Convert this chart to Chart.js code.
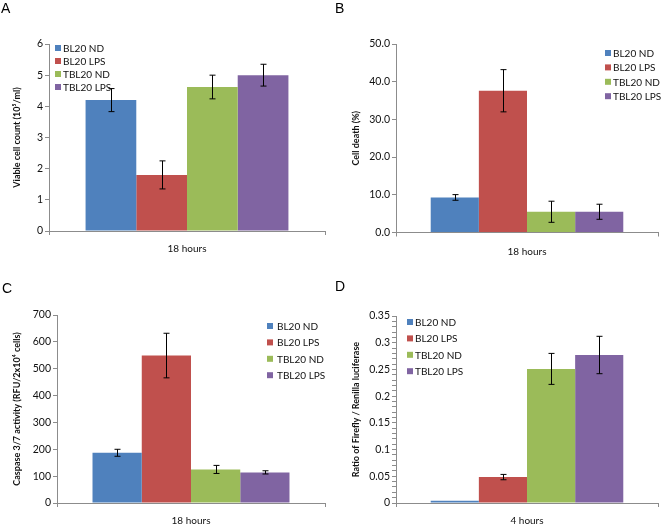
<!DOCTYPE html>
<html>
<head>
<meta charset="utf-8">
<script src="https://cdn.jsdelivr.net/npm/chart.js@4"></script>
<style>
  body { margin: 0; background: #fff; }
  .wrap { position: relative; width: 667px; height: 528px; }
  .panel { position: absolute; width: 333px; height: 264px; }
  .panel canvas { position: absolute; left: 0; top: 0; }
  .letter { position: absolute; font: 14px "Liberation Sans", Arial, sans-serif; color: #000; line-height: 1; }
</style>
</head>
<body>
<div class="wrap">
  <div class="panel" style="left:0;top:0"><canvas id="chartA" width="333" height="264"></canvas><div class="letter" style="left:1px;top:1px">A</div></div>
  <div class="panel" style="left:333px;top:0"><canvas id="chartB" width="334" height="264"></canvas><div class="letter" style="left:2px;top:1px">B</div></div>
  <div class="panel" style="left:0;top:264px"><canvas id="chartC" width="333" height="264"></canvas><div class="letter" style="left:2px;top:17px">C</div></div>
  <div class="panel" style="left:333px;top:264px"><canvas id="chartD" width="334" height="264"></canvas><div class="letter" style="left:2px;top:15px">D</div></div>
</div>
<script>
// series shared by all four panels
const seriesLabels = ["BL20 ND", "BL20 LPS", "TBL20 ND", "TBL20 LPS"];
const seriesColors = ["#4F81BD", "#C0504D", "#9BBB59", "#8064A2"];

// A - viable cell count
const catA = ["18 hours"];
const viableCount = [4.2, 1.8, 4.62, 5.0];
const viableErr = [0.37, 0.45, 0.38, 0.35];

// B - cell death
const catB = ["18 hours"];
const cellDeath = [9.3, 37.6, 5.5, 5.5];
const cellDeathErr = [0.75, 5.6, 2.8, 2.0];

// C - caspase 3/7
const catC = ["18 hours"];
const caspase = [187, 549, 125, 114];
const caspaseErr = [13, 83, 15, 6];

// D - luciferase ratio
const catD = ["4 hours"];
const luciferase = [0.004, 0.0485, 0.251, 0.277];
const luciferaseErr = [0, 0.005, 0.029, 0.035];

const FONT = "Lato, 'Open Sans', sans-serif";

// error bars drawn from the y scale
const errorBars = {
  id: "errorBars",
  afterDatasetsDraw(chart) {
    const errs = chart.options.plugins.errorBars.errors;
    const ctx = chart.ctx;
    const y = chart.scales.y;
    ctx.save();
    ctx.strokeStyle = "#000";
    ctx.lineWidth = 1;
    chart.data.datasets.forEach((ds, i) => {
      const bar = chart.getDatasetMeta(i).data[0];
      const e = errs[i];
      if (!e) return;
      const v = ds.data[0];
      const x = Math.round(bar.x) + 0.5;
      const top = y.getPixelForValue(v + e);
      const bot = y.getPixelForValue(v - e);
      ctx.beginPath();
      ctx.moveTo(x, top); ctx.lineTo(x, bot);
      ctx.moveTo(x - 3, top); ctx.lineTo(x + 3, top);
      ctx.moveTo(x - 3, bot); ctx.lineTo(x + 3, bot);
      ctx.stroke();
    });
    ctx.restore();
  }
};

// small legend drawn at a fixed spot
const boxLegend = {
  id: "boxLegend",
  afterDraw(chart) {
    const o = chart.options.plugins.boxLegend;
    const ctx = chart.ctx;
    ctx.save();
    ctx.font = "10px " + FONT;
    ctx.textBaseline = "middle";
    chart.data.datasets.forEach((ds, i) => {
      const cy = o.y + i * o.gap;
      ctx.fillStyle = ds.backgroundColor;
      ctx.fillRect(o.x, cy - 3, 6, 6);
      ctx.fillStyle = "#111";
      ctx.fillText(ds.label, o.textX, cy + 0.5);
    });
    ctx.restore();
  }
};

function makePanel(id, p) {
  return new Chart(document.getElementById(id), {
    type: "bar",
    data: {
      labels: p.labels,
      datasets: seriesLabels.map((name, i) => ({
        label: name,
        data: [p.values[i]],
        backgroundColor: seriesColors[i],
        borderWidth: 0,
        categoryPercentage: 0.735,
        barPercentage: 1
      }))
    },
    options: {
      responsive: false,
      animation: false,
      layout: { padding: { left: p.padLeft, right: p.padRight, top: p.top, bottom: 0 } },
      plugins: {
        legend: { display: false },
        tooltip: { enabled: false },
        errorBars: { errors: p.errors },
        boxLegend: p.legend
      },
      scales: {
        x: {
          grid: { drawOnChartArea: false, tickLength: 4, color: "#8c8c8c", offset: true },
          border: { color: "#8c8c8c" },
          ticks: { font: { family: FONT, size: 10 }, color: "#111", padding: p.xPad },
          afterFit(s) { s.height = p.xHeight; }
        },
        y: {
          min: 0,
          max: p.max,
          grid: { drawOnChartArea: false, tickLength: 4, color: "#8c8c8c" },
          border: { color: "#8c8c8c" },
          ticks: {
            stepSize: p.step,
            maxTicksLimit: 50,
            autoSkip: false,
            font: { family: FONT, size: 10.5 },
            color: "#111",
            padding: 2,
            callback: p.tickFmt
          },
          title: {
            display: true,
            text: p.yTitle,
            font: { family: FONT, size: 9, weight: "bold" },
            color: "#111",
            padding: 0
          },
          afterFit(s) { s.width = p.yWidth; }
        }
      }
    },
    plugins: [errorBars, boxLegend]
  });
}

makePanel("chartA", {
  labels: catA, values: viableCount, errors: viableErr,
  max: 6, step: 1, tickFmt: v => v,
  yTitle: "Viable cell count (10\u2075/ml)",
  padLeft: 12, yWidth: 37, padRight: 8, top: 44, xHeight: 33, xPad: 8,
  legend: { x: 55, textX: 63, y: 48, gap: 13 }
});

makePanel("chartB", {
  labels: catB, values: cellDeath, errors: cellDeathErr,
  max: 50, step: 10, tickFmt: v => v.toFixed(1),
  yTitle: "Cell death (%)",
  padLeft: 18, yWidth: 45, padRight: 9, top: 44, xHeight: 31.5, xPad: 9,
  legend: { x: 272, textX: 280, y: 53, gap: 14.4 }
});

makePanel("chartC", {
  labels: catC, values: caspase, errors: caspaseErr,
  max: 700, step: 100, tickFmt: v => v,
  yTitle: "Caspase 3/7 activity (RFU/2x10\u2074 cells)",
  padLeft: 12, yWidth: 45, padRight: 8, top: 51, xHeight: 25, xPad: 8,
  legend: { x: 267, textX: 277, y: 62, gap: 16.4 }
});

makePanel("chartD", {
  labels: catD, values: luciferase, errors: luciferaseErr,
  max: 0.35, step: 0.01,
  tickFmt: v => (Math.round(v * 100) % 5 === 0 ? String(Number(v.toFixed(2))) : ""),
  yTitle: "Ratio of Firefly / Renilla luciferase",
  padLeft: 18, yWidth: 45, padRight: 9, top: 52, xHeight: 25, xPad: 8,
  legend: { x: 74, textX: 82, y: 58, gap: 16.4 }
});
</script>
</body>
</html>
